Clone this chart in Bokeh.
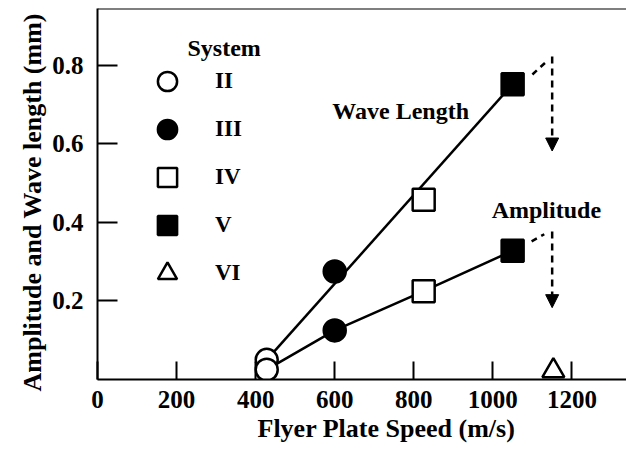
from bokeh.plotting import figure
from bokeh.models import (Range1d, FixedTicker, Legend, LegendItem, Label, Span, Title,
                          Arrow, NormalHead)
from bokeh.embed import file_html
from bokeh.resources import INLINE

# ---- data ----
systems = ["II", "III", "IV", "V", "VI"]
sys_speed = [428, 600, 825, 1050, 1153]          # flyer plate speed (m/s)
sys_wave = [0.050, 0.275, 0.458, 0.752, None]     # wave length (mm)
sys_amp = [0.025, 0.125, 0.225, 0.328, 0.022]     # amplitude (mm)
sys_marker = ["circle", "circle", "square", "square", "triangle"]
sys_filled = [False, True, False, True, False]

# dashed "drops" beyond system V
drop_x0 = [1100, 1098]
drop_y0 = [0.777, 0.352]
drop_x1 = [1138, 1130]
drop_y1 = [0.812, 0.370]
arrow_x = [1150, 1150]
arrow_ytop = [0.823, 0.377]
arrow_ytip = [0.582, 0.183]

x_ticks = [0, 200, 400, 600, 800, 1000, 1200]
y_ticks = [0.2, 0.4, 0.6, 0.8]
x_title = "Flyer Plate Speed (m/s)"
y_title = "Amplitude and Wave length (mm)"

FONT = "Liberation Serif"

p = figure(width=626, height=448, output_backend="svg", toolbar_location=None,
           x_range=Range1d(0, 1338), y_range=Range1d(0, 0.945),
           min_border_left=97, min_border_right=0, min_border_top=8, min_border_bottom=69)
p.outline_line_color = None
p.grid.visible = False
p.background_fill_color = "white"

# axes
xa = p.xaxis[0]
xa.ticker = FixedTicker(ticks=x_ticks)
ya = p.yaxis[0]
ya.ticker = FixedTicker(ticks=y_ticks)
for ax in (xa, ya):
    ax.axis_line_width = 2
    ax.axis_line_color = "black"
    ax.major_tick_line_width = 2
    ax.major_tick_out = 0
    ax.minor_tick_line_color = None
    ax.major_label_text_font = FONT
    ax.major_label_text_font_style = "bold"
    ax.major_label_text_font_size = "25px"
    ax.major_label_text_color = "black"
xa.major_tick_in = 18
ya.major_tick_in = 20
xa.major_label_standoff = 11
ya.major_label_standoff = 14

p.add_layout(Span(location=p.y_range.end, dimension="width", line_color="black", line_width=2))

# axis titles
p.add_layout(Title(text=x_title, align="left", offset=160, standoff=2,
                   text_font=FONT, text_font_style="bold", text_font_size="26px",
                   text_color="black"), "below")
p.add_layout(Title(text=y_title, align="left", offset=-12, standoff=6,
                   text_font=FONT, text_font_style="bold", text_font_size="26px",
                   text_color="black"), "left")

# lines
p.line([sys_speed[0], sys_speed[3]], [sys_wave[0], sys_wave[3]], line_color="black", line_width=2.5)
p.line(sys_speed[:4], sys_amp[:4], line_color="black", line_width=2.5)

# dashed drops
p.segment(drop_x0, drop_y0, drop_x1, drop_y1, line_color="black", line_width=2.5, line_dash="6 5")
for i in range(len(arrow_x)):
    p.add_layout(Arrow(end=NormalHead(size=13, fill_color="black", line_color="black", line_width=1),
                       x_start=arrow_x[i], y_start=arrow_ytop[i], x_end=arrow_x[i], y_end=arrow_ytip[i],
                       line_color="black", line_width=2.5, line_dash="7 5"))

# markers per system
items = []
for name, xs, w, a, m, f in zip(systems, sys_speed, sys_wave, sys_amp, sys_marker, sys_filled):
    xx, yy = [], []
    for v in (w, a):
        if v is not None:
            xx.append(xs)
            yy.append(v)
    r = p.scatter(xx, yy, marker=m, size=22, line_color="black", line_width=2.5,
                  fill_color="black" if f else "white")
    items.append(LegendItem(label=name, renderers=[r]))

legend = Legend(items=items, location=(46, 82), orientation="vertical",
                glyph_width=48, glyph_height=48, label_height=48, spacing=0,
                label_standoff=24, padding=0, margin=0,
                border_line_color=None, background_fill_alpha=0,
                label_text_font=FONT, label_text_font_style="bold",
                label_text_font_size="23px", label_text_color="black")
p.add_layout(legend, "center")

p.add_layout(Label(x=90, y=332, x_units="screen", y_units="screen", text="System",
                   text_font=FONT, text_font_style="bold", text_font_size="24px",
                   text_color="black", text_baseline="alphabetic"))
p.add_layout(Label(x=594, y=0.685, text="Wave Length", text_font=FONT, text_font_style="bold",
                   text_font_size="24px", text_color="black", text_baseline="alphabetic"))
p.add_layout(Label(x=997, y=0.433, text="Amplitude", text_font=FONT, text_font_style="bold",
                   text_font_size="24px", text_color="black", text_baseline="alphabetic"))

open("out.html", "w").write(file_html(p, INLINE))
